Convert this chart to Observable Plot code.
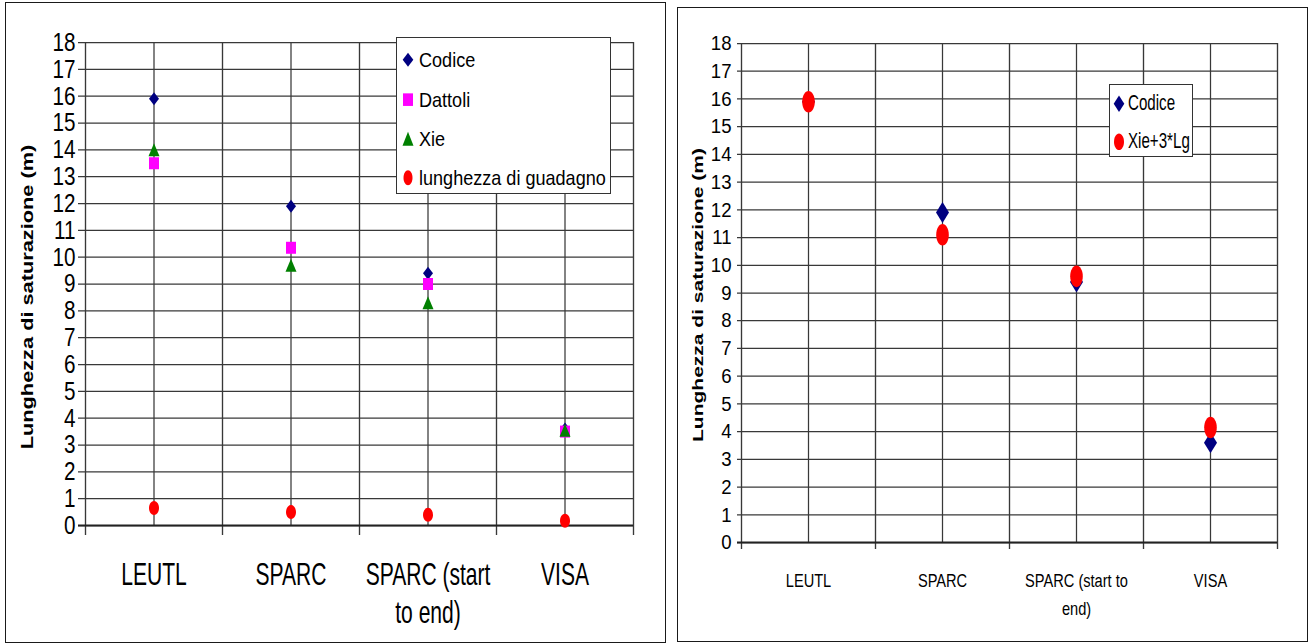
<!DOCTYPE html>
<html><head><meta charset="utf-8">
<script src="https://cdn.jsdelivr.net/npm/d3@7"></script>
<script src="https://cdn.jsdelivr.net/npm/@observablehq/plot@0.6"></script>
<style>
html,body{margin:0;padding:0;background:#fff;}
body{width:1312px;height:644px;position:relative;overflow:hidden;font-family:"Liberation Sans",Arial,sans-serif;color:#000;}
.panel{position:absolute;border:1.5px solid #1a1a1a;box-sizing:border-box;pointer-events:none;}
.ylab{position:absolute;white-space:nowrap;font-family:"Liberation Sans",Arial,sans-serif;font-weight:bold;color:#000;}
.legend{position:absolute;background:#fff;border:1.3px solid #333;box-sizing:border-box;}
.legend .row{position:absolute;white-space:nowrap;display:flex;align-items:center;}
.legend .lt{display:inline-block;transform-origin:left center;}
</style></head><body>
<script>
// ---- data ----
const categories = ["LEUTL", "SPARC", "SPARC (start to end)", "VISA"];
const leftTickLabels = ["LEUTL", "SPARC", "SPARC (start\nto end)", "VISA"];
const rightTickLabels = ["LEUTL", "SPARC", "SPARC (start to\nend)", "VISA"];
const yTicks = [0,1,2,3,4,5,6,7,8,9,10,11,12,13,14,15,16,17,18];
const codice = [15.9, 11.9, 9.4, 3.6];
const dattoli = [13.5, 10.35, 9.0, 3.5];
const xie = [14.0, 9.7, 8.3, 3.55];
const lunghezzaGuadagno = [0.65, 0.5, 0.4, 0.18];
const codiceRight = [15.9, 11.9, 9.4, 3.6];
const xie3Lg = [15.9, 11.1, 9.6, 4.15];
const yLabel = "Lunghezza di saturazione (m)";

// ---- symbol shapes ----
function ellipse(rx, ry){ return {draw(c){ const k=0.5523;
  c.moveTo(rx,0); c.bezierCurveTo(rx,ry*k,rx*k,ry,0,ry); c.bezierCurveTo(-rx*k,ry,-rx,ry*k,-rx,0);
  c.bezierCurveTo(-rx,-ry*k,-rx*k,-ry,0,-ry); c.bezierCurveTo(rx*k,-ry,rx,-ry*k,rx,0); c.closePath(); }}; }
function diamond(rx, ry){ return {draw(c){ c.moveTo(0,-ry); c.lineTo(rx,0); c.lineTo(0,ry); c.lineTo(-rx,0); c.closePath(); }}; }
function rect(rx, ry){ return {draw(c){ c.moveTo(-rx,-ry); c.lineTo(rx,-ry); c.lineTo(rx,ry); c.lineTo(-rx,ry); c.closePath(); }}; }
function triangle(rx, ry){ return {draw(c){ c.moveTo(0,-ry); c.lineTo(rx,ry); c.lineTo(-rx,ry); c.closePath(); }}; }
function symPath(sym){ const p = d3.path(); sym.draw(p); return p.toString(); }

const NAVY="#000080", MAGENTA="#FF00FF", GREEN="#008000", RED="#FF0000";
const GRID="#383838";

function rows(values){ return categories.map((c,i)=>({category:c, value:values[i]})); }

// narrow, tall glyphs like the original (each label scaled about its own anchor)
function scaleText(t, sx, sy){
  let tr = t.getAttribute("transform");
  if (!tr) {
    const x = +(t.getAttribute("x") || 0), y = +(t.getAttribute("y") || 0);
    t.setAttribute("x", 0); t.setAttribute("y", 0);
    tr = `translate(${x},${y})`;
  }
  t.setAttribute("transform", `${tr} scale(${sx},${sy})`);
}
function squeeze(svg, cfg){
  svg.querySelectorAll("text").forEach(t => {
    if (/^\d+$/.test(t.textContent.trim())) scaleText(t, cfg.tickSx, cfg.tickSy);
    else scaleText(t, cfg.xSx, cfg.xSy);
  });
}

function makePanel(cfg){
  const bw = (cfg.width - cfg.mLeft - cfg.mRight) / categories.length;
  const svg = Plot.plot({
    width: cfg.width, height: 644,
    marginTop: cfg.mTop, marginBottom: cfg.mBottom, marginLeft: cfg.mLeft, marginRight: cfg.mRight,
    x: {type:"band", domain: categories, padding: 0, axis: null},
    y: {domain: [0, 18], axis: null},
    style: {background:"transparent", color:"#000", fontFamily:'"Liberation Sans",Arial,sans-serif'},
    marks: [
      Plot.ruleY(yTicks, {y: d=>d, stroke: GRID, strokeWidth: 1.25, insetLeft: -cfg.tickLen}),
      Plot.ruleX(categories, {x: d=>d, stroke: GRID, strokeWidth: 1.25}),
      Plot.ruleX(categories, {x: d=>d, dx: -bw/2, stroke: GRID, strokeWidth: 1.35, insetBottom: -cfg.tickDown}),
      Plot.ruleX([categories[categories.length-1]], {x: d=>d, dx: bw/2, stroke: GRID, strokeWidth: 1.35, insetBottom: -cfg.tickDown}),
      Plot.ruleY([0], {y: d=>d, stroke: "#222", strokeWidth: 2, insetLeft: -cfg.tickLen}),
      Plot.text(yTicks, {y: d=>d, text: d=>String(d), frameAnchor: "left", textAnchor: "end", dx: -cfg.tickPad, fontSize: cfg.tickFont}),
      Plot.text(categories, {x: d=>d, text: (d,i)=>cfg.xLabels[i], frameAnchor: "bottom", lineAnchor: "top", dy: cfg.xDy, fontSize: cfg.xFont, lineHeight: cfg.xLineHeight}),
      ...cfg.series.map(s => Plot.dot(rows(s.values), {x: "category", y: "value", symbol: s.symbol, fill: s.fill, stroke: "none", r: 5}))
    ]
  });
  squeeze(svg, cfg);
  svg.style.position = "absolute";
  svg.style.left = cfg.left + "px";
  svg.style.top = "0px";
  svg.style.maxWidth = "none";
  document.body.appendChild(svg);
}

function addLegend(cfg){
  const box = document.createElement("div");
  box.className = "legend";
  Object.assign(box.style, {left: cfg.left+"px", top: cfg.top+"px", width: cfg.width+"px", height: cfg.height+"px"});
  cfg.items.forEach((it, i) => {
    const row = document.createElement("div");
    row.className = "row";
    const lh = cfg.fontSize * 1.3;
    Object.assign(row.style, {left: "0px", top: (cfg.rowY[i] - lh/2) + "px", height: lh + "px", fontSize: cfg.fontSize + "px"});
    row.innerHTML = `<svg width="${cfg.textX}" height="${lh}" style="display:block;overflow:visible"><path transform="translate(${cfg.symX},${lh/2})" d="${symPath(it.symbol)}" fill="${it.fill}"/></svg><span class="lt" style="line-height:${lh}px;transform:scale(${cfg.sx},${cfg.sy})">${it.label}</span>`;
    box.appendChild(row);
  });
  document.body.appendChild(box);
}

function addYLabel(cfg){
  const d = document.createElement("div");
  d.className = "ylab";
  d.textContent = yLabel;
  Object.assign(d.style, {left: cfg.x+"px", top: cfg.y+"px", fontSize: cfg.fontSize+"px",
    transform: `translate(-50%,-50%) rotate(-90deg) scaleX(${cfg.stretch})`, transformOrigin: "center"});
  document.body.appendChild(d);
}

function addFrame(l, t, w, h){
  const d = document.createElement("div");
  d.className = "panel";
  Object.assign(d.style, {left: l+"px", top: t+"px", width: w+"px", height: h+"px"});
  document.body.appendChild(d);
}

// ---- left chart ----
makePanel({
  left: 0, width: 670, mTop: 42, mBottom: 119, mLeft: 85, mRight: 37,
  tickLen: 7, tickDown: 10, tickPad: 10, tickFont: 23, tickSx: 0.9, tickSy: 1.15,
  xLabels: leftTickLabels, xFont: 26, xDy: 32, xLineHeight: 1.24, xSx: 0.81, xSy: 1.18,
  series: [
    {values: codice, symbol: diamond(5, 6.5), fill: NAVY},
    {values: dattoli, symbol: rect(5, 6), fill: MAGENTA},
    {values: xie, symbol: triangle(5.5, 6.5), fill: GREEN},
    {values: lunghezzaGuadagno, symbol: ellipse(5, 7), fill: RED}
  ]
});
addYLabel({x: 28, y: 297, fontSize: 16, stretch: 1.36});
addLegend({left: 396, top: 37, width: 215, height: 157, fontSize: 21, symX: 11, textX: 22, sx: 0.86, sy: 1.0,
  rowY: [22, 62, 101, 140],
  items: [
    {label: "Codice", symbol: diamond(5.3, 7), fill: NAVY},
    {label: "Dattoli", symbol: rect(5, 6.3), fill: MAGENTA},
    {label: "Xie", symbol: triangle(5.5, 7), fill: GREEN},
    {label: "lunghezza di guadagno", symbol: ellipse(4.5, 7.5), fill: RED}
  ]});
addFrame(5, 2, 661, 641);

// ---- right chart ----
makePanel({
  left: 670, width: 642, mTop: 43, mBottom: 102, mLeft: 71, mRight: 35,
  tickLen: 4, tickDown: 7, tickPad: 10, tickFont: 20, tickSx: 0.93, tickSy: 1.05,
  xLabels: rightTickLabels, xFont: 17, xDy: 25, xLineHeight: 1.57, xSx: 0.86, xSy: 1.05,
  series: [
    {values: codiceRight, symbol: diamond(6.5, 10.5), fill: NAVY},
    {values: xie3Lg, symbol: ellipse(6.3, 10.8), fill: RED}
  ]
});
addYLabel({x: 698, y: 295, fontSize: 14, stretch: 1.5});
addLegend({left: 1109, top: 84, width: 84, height: 73, fontSize: 18, symX: 9, textX: 18, sx: 0.84, sy: 1.25,
  rowY: [19, 57],
  items: [
    {label: "Codice", symbol: diamond(5.3, 8.3), fill: NAVY},
    {label: "Xie+3*Lg", symbol: ellipse(5, 8.3), fill: RED}
  ]});
addFrame(677, 7, 631, 635);
</script>
</body></html>
